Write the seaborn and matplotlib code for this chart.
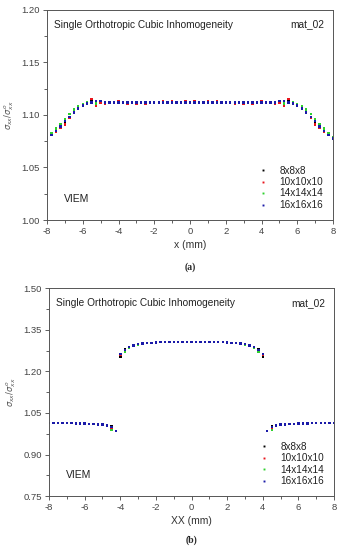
import numpy as np
import pandas as pd
import matplotlib
matplotlib.use("Agg")
import matplotlib.pyplot as plt
import seaborn as sns
from matplotlib.ticker import MultipleLocator

sns.set_style("ticks")
plt.rcParams['font.family'] = ['Liberation Sans', 'DejaVu Sans']
plt.rcParams['axes.unicode_minus'] = False

meshes = ['8x8x8', '10x10x10', '14x14x14', '16x16x16']
colors = ['#000000', '#e8141c', '#2ed12e', '#1a1aa8']

# (a) x from -8 to 8, step 0.25 (left half + centre, mirrored for right half)
xa = [-8.0, -7.75, -7.5, -7.25, -7.0, -6.75, -6.5, -6.25, -6.0, -5.75, -5.5, -5.25, -5.0,
      -4.75, -4.5, -4.25, -4.0, -3.75, -3.5, -3.25, -3.0, -2.75, -2.5, -2.25, -2.0,
      -1.75, -1.5, -1.25, -1.0, -0.75, -0.5, -0.25, 0.0]
ya_16 = [1.0775, 1.081, 1.085, 1.089, 1.094, 1.098, 1.1025, 1.106, 1.109, 1.111, 1.112, 1.113, 1.113,
         1.112, 1.112, 1.112, 1.112, 1.112, 1.112, 1.112, 1.112, 1.112, 1.112, 1.112, 1.112,
         1.112, 1.112, 1.112, 1.112, 1.112, 1.112, 1.112, 1.112]
ya_14 = [1.0785, 1.083, 1.087, 1.091, 1.096, 1.101, 1.105, 1.108, 1.110, 1.112, 1.112, 1.111, 1.113,
         1.112, 1.112, 1.112, 1.112, 1.112, 1.112, 1.112, 1.112, 1.112, 1.112, 1.112, 1.112,
         1.112, 1.112, 1.112, 1.112, 1.112, 1.112, 1.112, 1.112]
ya_10 = [1.078, 1.0825, 1.0835, 1.088, 1.091, 1.097, 1.102, 1.106, 1.109, 1.111, 1.115, 1.109, 1.112,
         1.111, 1.112, 1.112, 1.113, 1.112, 1.111, 1.112, 1.111, 1.112, 1.111, 1.112, 1.112,
         1.112, 1.113, 1.112, 1.113, 1.112, 1.112, 1.113, 1.112]
ya_8 = [1.078, 1.0815, 1.0845, 1.089, 1.093, 1.098, 1.102, 1.106, 1.109, 1.111, 1.114, 1.111, 1.112,
        1.112, 1.112, 1.112, 1.112, 1.112, 1.112, 1.112, 1.112, 1.112, 1.112, 1.112, 1.112,
        1.112, 1.112, 1.112, 1.112, 1.112, 1.112, 1.112, 1.112]

# (b) inner region -4..0 (mirrored), outer region -8..-4.25 (mirrored)
xb_in = [-4.0, -3.75, -3.5, -3.25, -3.0, -2.75, -2.5, -2.25, -2.0, -1.75, -1.5, -1.25, -1.0,
         -0.75, -0.5, -0.25, 0.0]
yb_in_16 = [1.262, 1.276, 1.288, 1.294, 1.298, 1.300, 1.302, 1.303, 1.304, 1.305, 1.305, 1.305, 1.305,
            1.305, 1.305, 1.305, 1.305]
yb_in_14 = [1.262, 1.270, 1.286, 1.292, 1.297, 1.300, 1.302, 1.303, 1.304, 1.305, 1.305, 1.305, 1.305,
            1.305, 1.305, 1.305, 1.305]
yb_in_10 = [1.258, 1.276, 1.288, 1.294, 1.298, 1.300, 1.302, 1.303, 1.304, 1.305, 1.305, 1.305, 1.305,
            1.305, 1.305, 1.305, 1.305]
yb_in_8 = [1.254, 1.280, 1.288, 1.294, 1.298, 1.300, 1.302, 1.303, 1.304, 1.305, 1.305, 1.305, 1.305,
           1.305, 1.305, 1.305, 1.305]
xb_out = [-8.0, -7.75, -7.5, -7.25, -7.0, -6.75, -6.5, -6.25, -6.0, -5.75, -5.5, -5.25, -5.0,
          -4.75, -4.5, -4.25]
yb_out_16 = [1.013, 1.013, 1.013, 1.013, 1.013, 1.013, 1.012, 1.012, 1.012, 1.011, 1.010, 1.009, 1.008,
             1.005, 0.999, 0.984]
yb_out_14 = [1.013, 1.013, 1.013, 1.013, 1.013, 1.013, 1.012, 1.012, 1.012, 1.011, 1.010, 1.008, 1.006,
             1.004, 0.988, 0.984]
yb_out_10 = [1.013, 1.013, 1.013, 1.013, 1.013, 1.013, 1.012, 1.012, 1.012, 1.011, 1.010, 1.009, 1.008,
             1.005, 0.992, 0.984]
yb_out_8 = [1.013, 1.013, 1.013, 1.013, 1.013, 1.013, 1.012, 1.012, 1.012, 1.011, 1.010, 1.009, 1.008,
            1.005, 1.002, 0.984]


def mirror(x, y):
    x = np.asarray(x)
    y = np.asarray(y)
    if x[-1] == 0.0:
        return np.concatenate([x, -x[-2::-1]]), np.concatenate([y, y[-2::-1]])
    return np.concatenate([x, -x[::-1]]), np.concatenate([y, y[::-1]])


def build(parts):
    frames = []
    for mesh, segs in parts.items():
        for xs, ys in segs:
            mx, my = mirror(xs, ys)
            frames.append(pd.DataFrame({'x': mx, 'y': my, 'mesh': mesh}))
    return pd.concat(frames, ignore_index=True)


df_a = build({'8x8x8': [(xa, ya_8)], '10x10x10': [(xa, ya_10)],
              '14x14x14': [(xa, ya_14)], '16x16x16': [(xa, ya_16)]})
df_b = build({'8x8x8': [(xb_in, yb_in_8), (xb_out, yb_out_8)],
              '10x10x10': [(xb_in, yb_in_10), (xb_out, yb_out_10)],
              '14x14x14': [(xb_in, yb_in_14), (xb_out, yb_out_14)],
              '16x16x16': [(xb_in, yb_in_16), (xb_out, yb_out_16)]})

fig = plt.figure(figsize=(3.43, 5.5), dpi=100)
ax1 = fig.add_axes([0.137, 0.600, 0.834, 0.382])
ax2 = fig.add_axes([0.143, 0.098, 0.831, 0.378])


def style_axis(ax, df, ylim, ymajor, xlabel, tag, tag_y):
    sns.scatterplot(data=df, x='x', y='y', hue='mesh', hue_order=meshes,
                    palette=colors, marker='s', s=3, linewidth=0, ax=ax)
    ax.set_xlim(-8, 8)
    ax.set_ylim(*ylim)
    ax.xaxis.set_major_locator(MultipleLocator(2))
    ax.xaxis.set_minor_locator(MultipleLocator(1))
    ax.yaxis.set_major_locator(MultipleLocator(ymajor))
    ax.yaxis.set_minor_locator(MultipleLocator(ymajor / 2))
    ax.tick_params(which='major', length=3, width=0.6, labelsize=6.8, pad=2,
                   colors='#444444')
    ax.tick_params(which='minor', length=2, width=0.6, colors='#444444')
    for sp in ax.spines.values():
        sp.set_visible(True)
        sp.set_linewidth(0.7)
        sp.set_color('#555555')
    ax.set_xlabel(xlabel, fontsize=7.5, labelpad=3, color='#333333')
    ax.set_ylabel(r'$\sigma_{xx}/\sigma^{o}_{xx}$', fontsize=6, labelpad=4, color='#555555')
    ax.text(0.025, 0.93, 'Single Orthotropic Cubic Inhomogeneity', transform=ax.transAxes,
            fontsize=7.3, va='center', color='#222222')
    ax.text(0.97, 0.93, 'mat_02', transform=ax.transAxes, fontsize=7.3, va='center',
            ha='right', color='#222222')
    ax.text(0.06, 0.10, 'VIEM', transform=ax.transAxes, fontsize=7.5, va='center',
            color='#222222')
    leg = ax.legend(loc='lower right', frameon=False, fontsize=7.2, markerscale=0.8,
                    handletextpad=0.6, labelspacing=0.15, borderaxespad=0.6)
    for t in leg.get_texts():
        t.set_color('#222222')
    ax.text(0.5, tag_y, tag, transform=ax.transAxes, fontsize=7, ha='center', va='center',
            family=['Liberation Serif'], fontweight='bold')


style_axis(ax1, df_a, (1.00, 1.20), 0.05, 'x (mm)', '(a)', -0.225)
style_axis(ax2, df_b, (0.75, 1.50), 0.15, 'XX (mm)', '(b)', -0.21)

fig.savefig('out.png', dpi=100)
